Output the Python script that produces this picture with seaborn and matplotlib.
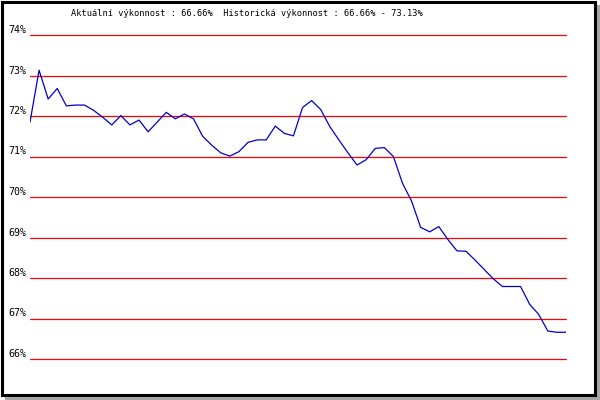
import seaborn as sns
import matplotlib.pyplot as plt
import matplotlib.transforms as mtransforms
from matplotlib.patches import Rectangle
import pandas as pd

# performance values (percent)
vykon = [71.85, 73.13, 72.42, 72.68, 72.25, 72.27, 72.27, 72.14, 71.97, 71.78,
         72.01, 71.78, 71.90, 71.61, 71.85, 72.09, 71.93, 72.05, 71.93, 71.50,
         71.28, 71.09, 71.01, 71.12, 71.35, 71.41, 71.41, 71.75, 71.57, 71.51,
         72.21, 72.38, 72.16, 71.74, 71.41, 71.09, 70.79, 70.92, 71.20, 71.22,
         71.00, 70.34, 69.90, 69.25, 69.14, 69.27, 68.95, 68.67, 68.66, 68.44,
         68.21, 67.98, 67.79, 67.79, 67.79, 67.35, 67.10, 66.69, 66.66, 66.66]
krok = list(range(len(vykon)))
yticks = [66, 67, 68, 69, 70, 71, 72, 73, 74]
ylabels = ['66%', '67%', '68%', '69%', '70%', '71%', '72%', '73%', '74%']
titulek = 'Aktuální výkonnost : 66.66%  Historická výkonnost : 66.66% - 73.13%'

df = pd.DataFrame({'krok': krok, 'vykon': vykon})

sns.set_style('white')
plt.rcParams['font.family'] = ['DejaVu Sans Mono']
plt.rcParams['text.color'] = 'black'
plt.rcParams['ytick.color'] = 'black'

fig = plt.figure(figsize=(6, 4), dpi=100)
fig.patch.set_facecolor('white')

# frame with shadow
fig.patches.append(Rectangle((5/600, 0), 595/600, 395/400, transform=fig.transFigure,
                             facecolor='#a8a8a8', edgecolor='none', zorder=-3))
fig.patches.append(Rectangle((1.5/600, 5.5/400), 593/600, 393/400, transform=fig.transFigure,
                             facecolor='white', edgecolor='black', linewidth=2.2, zorder=-2))

ax = fig.add_axes([30/600, 1 - 359/400, 536/600, 324/400])
ax.set_facecolor('none')

for t in yticks:
    ax.axhline(t, color='#ff0000', linewidth=0.9, zorder=1, clip_on=False)

sns.lineplot(data=df, x='krok', y='vykon', ax=ax, color='#0000cc', linewidth=0.9, zorder=2)

ax.set_xlim(0, len(vykon) - 1)
ax.set_ylim(66, 74)
ax.set_xticks([])
ax.set_yticks(yticks)
ax.set_yticklabels(ylabels, fontsize=7.2, color='black')
ax.tick_params(axis='y', length=0, pad=2.5)
off = mtransforms.ScaledTranslation(0, 6/100, fig.dpi_scale_trans)
for lab in ax.get_yticklabels():
    lab.set_transform(lab.get_transform() + off)
ax.set_xlabel('')
ax.set_ylabel('')
sns.despine(ax=ax, left=True, bottom=True)

fig.text(247/600, 1 - 14/400, titulek, ha='center', va='center', fontsize=6.2, color='black')

fig.savefig('out.png', dpi=100)
